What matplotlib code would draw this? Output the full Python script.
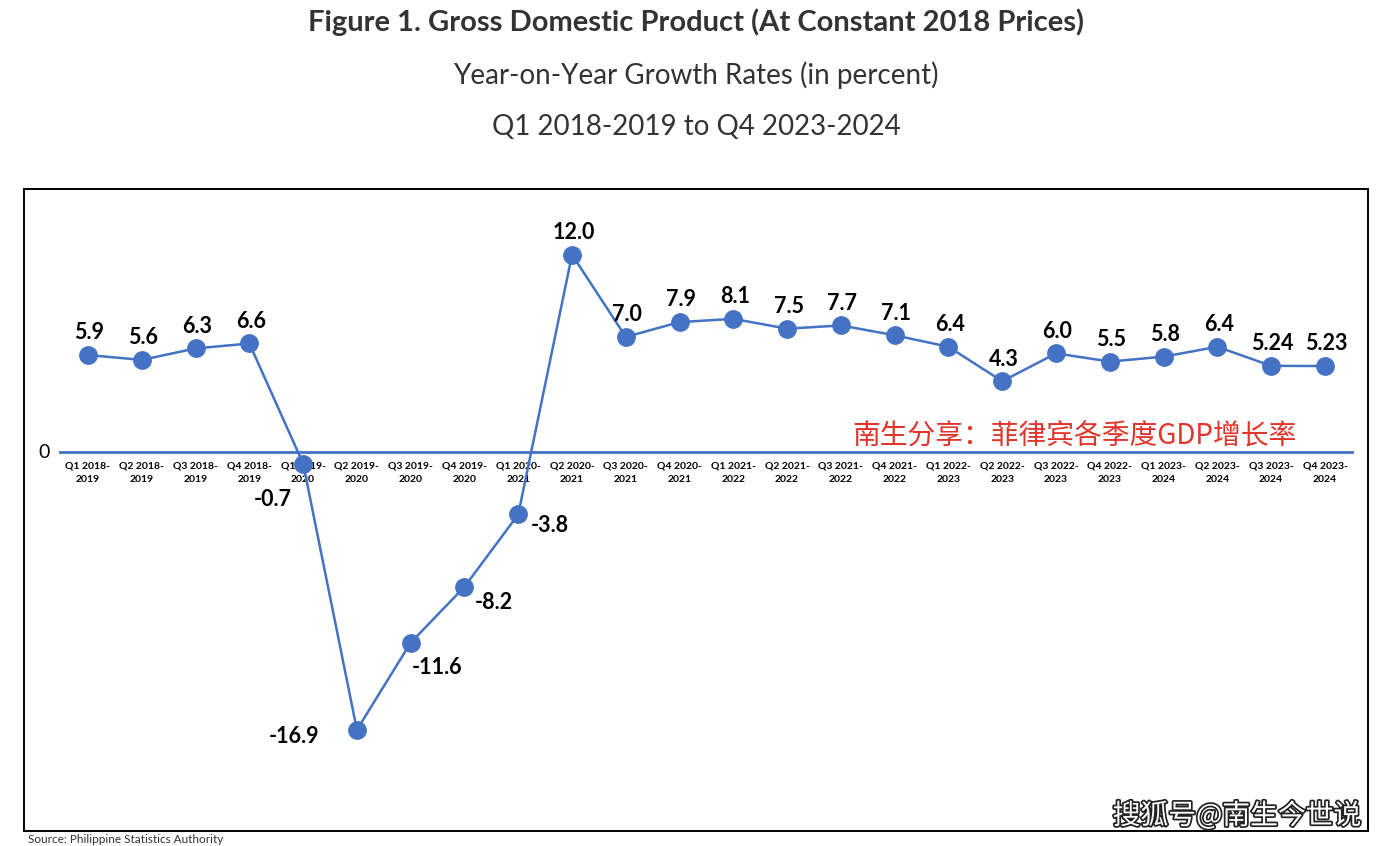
import matplotlib
matplotlib.use("Agg")
import matplotlib.pyplot as plt
import matplotlib.patheffects as pe

plt.rcParams['font.family'] = ['Lato', 'Noto Sans CJK SC', 'DejaVu Sans']

categories = ["Q1 2018-\n2019", "Q2 2018-\n2019", "Q3 2018-\n2019", "Q4 2018-\n2019",
              "Q1 2019-\n2020", "Q2 2019-\n2020", "Q3 2019-\n2020", "Q4 2019-\n2020",
              "Q1 2020-\n2021", "Q2 2020-\n2021", "Q3 2020-\n2021", "Q4 2020-\n2021",
              "Q1 2021-\n2022", "Q2 2021-\n2022", "Q3 2021-\n2022", "Q4 2021-\n2022",
              "Q1 2022-\n2023", "Q2 2022-\n2023", "Q3 2022-\n2023", "Q4 2022-\n2023",
              "Q1 2023-\n2024", "Q2 2023-\n2024", "Q3 2023-\n2024", "Q4 2023-\n2024"]
values = [5.9, 5.6, 6.3, 6.6, -0.7, -16.9, -11.6, -8.2, -3.8, 12.0, 7.0, 7.9,
          8.1, 7.5, 7.7, 7.1, 6.4, 4.3, 6.0, 5.5, 5.8, 6.4, 5.24, 5.23]
value_labels = ["5.9", "5.6", "6.3", "6.6", "-0.7", "-16.9", "-11.6", "-8.2", "-3.8",
                "12.0", "7.0", "7.9", "8.1", "7.5", "7.7", "7.1", "6.4", "4.3", "6.0",
                "5.5", "5.8", "6.4", "5.24", "5.23"]

W, H = 1392, 846
fig = plt.figure(figsize=(W / 100, H / 100), dpi=100)

# chart box in pixels
bx0, bx1, by0, by1 = 24, 1368, 189, 831
ax = fig.add_axes([bx0 / W, 1 - by1 / H, (bx1 - bx0) / W, (by1 - by0) / H])
for s in ax.spines.values():
    s.set_color('black')
    s.set_linewidth(1.4)
ax.set_xticks([])
ax.set_yticks([])

step = 53.78
x0px = 88
ax.set_xlim(-(x0px - bx0) / step, (bx1 - x0px) / step)
ppu = 16.44
zero_px = 452
ax.set_ylim(-(by1 - zero_px) / ppu, (zero_px - by0) / ppu)

blue = '#4472C4'
ax.plot([(60 - x0px) / step, (1352 - x0px) / step], [0, 0], color=blue, lw=2.0, zorder=1)

xs = list(range(len(values)))
ax.plot(xs, values, color=blue, lw=1.8, marker='o', markersize=12.5,
        markerfacecolor=blue, markeredgecolor=blue, zorder=3)

# data labels: offsets in points (dx, dy)
offsets = {4: (-22, -26), 5: (-45, -5), 6: (19, -18), 7: (21, -11), 8: (23, -8)}
for i, (v, lab) in enumerate(zip(values, value_labels)):
    dx, dy = offsets.get(i, (1, 16))
    ax.annotate(lab, (i, v), xytext=(dx, dy), textcoords='offset points',
                ha='center', va='center', fontsize=15.5, fontweight='bold',
                color='black', zorder=4)

# category labels under zero line
for i, c in enumerate(categories):
    ax.annotate(c, (i, 0), xytext=(0, -6.5), textcoords='offset points',
                ha='center', va='top', fontsize=7.5, fontweight='bold',
                color='black', linespacing=1.75, zorder=2)

ax.text((44 - x0px) / step, 0, "0", ha='center', va='center', fontsize=14, color='black')

# red annotation
ax.text((852 - x0px) / step, (zero_px - 437) / ppu, "南生分享：菲律宾各季度GDP增长率",
        ha='left', va='center', fontsize=20, color='#E0352B',
        family=['Noto Sans CJK SC', 'DejaVu Sans'], zorder=2)

# titles
fig.text(0.5, 1 - 22 / H, "Figure 1. Gross Domestic Product (At Constant 2018 Prices)",
         ha='center', va='center', fontsize=21, fontweight='bold', color='#333333')
fig.text(0.5, 1 - 75 / H, "Year-on-Year Growth Rates (in percent)",
         ha='center', va='center', fontsize=20, color='#333333')
fig.text(0.5, 1 - 127 / H, "Q1 2018-2019 to Q4 2023-2024",
         ha='center', va='center', fontsize=20, color='#333333')

# source (at the bottom edge)
fig.text(28 / W, 1 - 834 / H, "Source: Philippine Statistics Authority",
         ha='left', va='top', fontsize=8.5, color='#333333')

# watermark
fig.text(1361 / W, 1 - 816 / H, "搜狐号@南生今世说", ha='right', va='center',
         fontsize=20, color='white', family=['Noto Sans CJK SC', 'DejaVu Sans'],
         path_effects=[pe.withStroke(linewidth=2.5, foreground='#222222')])

fig.savefig("out.png", dpi=100)
